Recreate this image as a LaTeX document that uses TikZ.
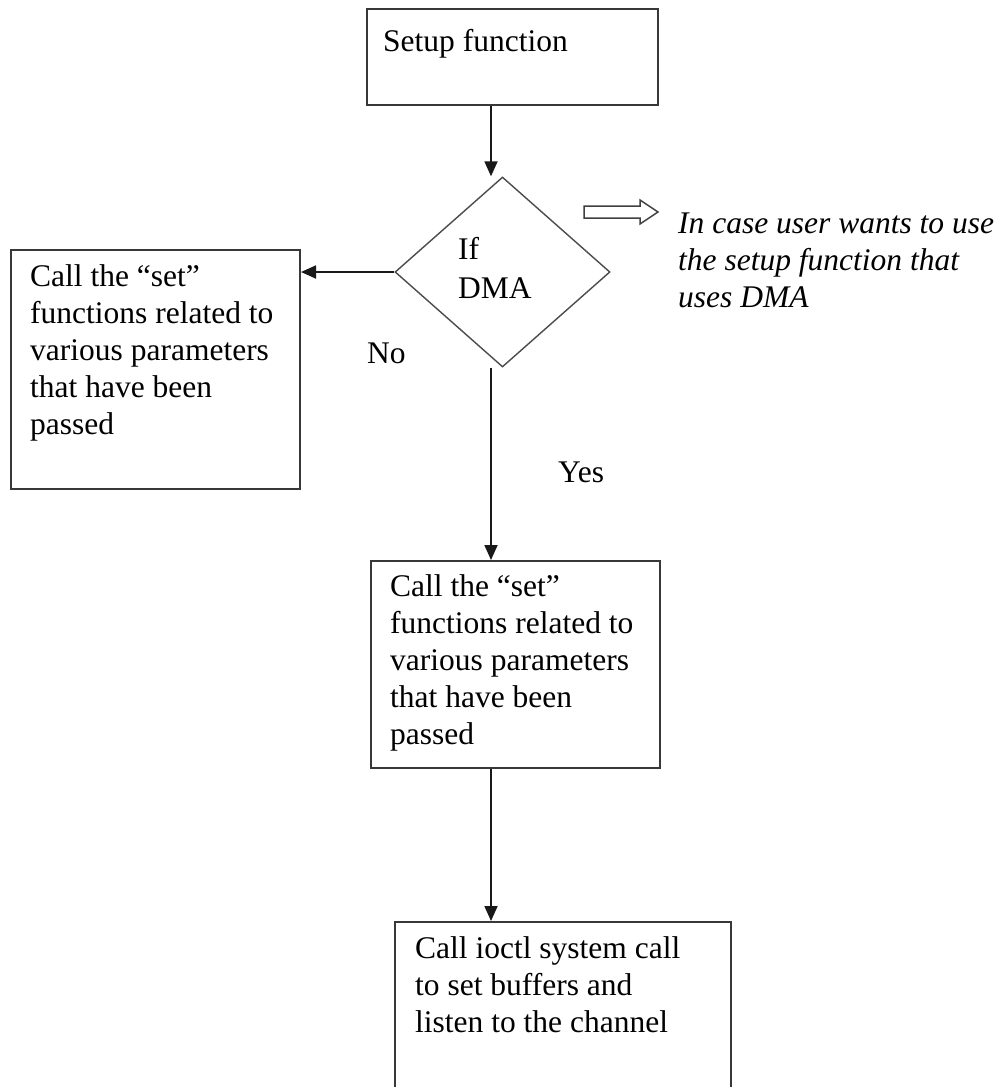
\documentclass[tikz,border=0pt]{standalone}
\usepackage{fontspec}
\setmainfont{Liberation Serif}
\usetikzlibrary{shapes.geometric,arrows.meta}
\newcommand{\flfont}{\fontsize{31.5}{37}\selectfont}
\newcommand{\dmafont}{\fontsize{31.5}{39}\selectfont}
\begin{document}
\begin{tikzpicture}[x=1pt,y=-1pt,
  box/.style={draw=black!78,line width=2pt,rectangle,inner sep=0pt,anchor=north west},
  txt/.style={inner sep=0pt,anchor=north west,align=left,font=\flfont,text=black},
  lbl/.style={inner sep=0pt,anchor=base west,font=\flfont,text=black},
  arr/.style={draw=black!90,line width=1.8pt,-{Triangle[length=15pt,width=13pt]}},
]
\useasboundingbox (0,0) rectangle (1001,1087);
\fill[white] (0,0) rectangle (1001,1087);
\coordinate (colx) at (491,0);

% boxes
\node[box, minimum width=291pt, minimum height=96pt] (setup) at (366,8) {};
\node[diamond, draw=black!70, line width=1.4pt, minimum width=215pt, minimum height=190pt, inner sep=0pt] (dma) at (502.5,272) {};
\node[box, minimum width=289pt, minimum height=239pt] (nobox) at (10,249) {};
\node[box, minimum width=289pt, minimum height=207pt] (yesbox) at (370,560) {};
\node[box, minimum width=336pt, minimum height=180pt] (ioctl) at (394,921) {};

% texts
\node[txt] (setupt) at (383,25) {\strut Setup function};
\node[txt, font=\dmafont] (dmat) at (458,231.5) {\strut If\\DMA};
\node[txt] (notxt) at (30,260) {\strut Call the “set”\\functions related to\\various parameters\\that have been\\passed};
\node[txt] (yestxt) at (390,570) {\strut Call the “set”\\functions related to\\various parameters\\that have been\\passed};
\node[txt] (ioctlt) at (415,932) {\strut Call ioctl system call\\to set buffers and\\listen to the channel};
\node[txt, font=\flfont\itshape] (note) at (678,207) {\strut In case user wants to use\\the setup function that\\uses DMA};
\node[lbl] (nolbl) at (367,363) {No};
\node[lbl] (yeslbl) at (558,482) {Yes};

% connectors
\draw[arr] (setup.south -| colx) -- (dma.north -| colx);
\draw[arr] (dma.west) -- (nobox.east |- dma.west);
\draw[arr] (dma.south -| colx) -- (yesbox.north -| colx);
\draw[arr] (yesbox.south -| colx) -- (ioctl.north -| colx);

% hollow block arrow
\draw[line width=1.5pt, draw=black!75, fill=white]
  (584,206) -- (640,206) -- (640,200) -- (658,212) -- (640,224) -- (640,218) -- (584,218) -- cycle;
\end{tikzpicture}
\end{document}
